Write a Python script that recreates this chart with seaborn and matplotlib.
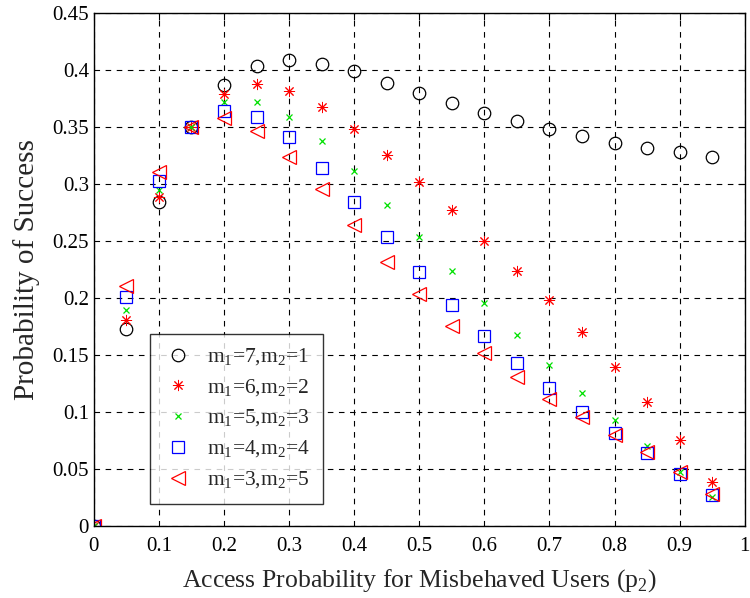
import numpy as np
import matplotlib
matplotlib.use('Agg')
import matplotlib.pyplot as plt
import seaborn as sns

# data
p2 = [0, 0.05, 0.1, 0.15, 0.2, 0.25, 0.3, 0.35, 0.4, 0.45,
      0.5, 0.55, 0.6, 0.65, 0.7, 0.75, 0.8, 0.85, 0.9, 0.95]
m71 = [0, 0.173, 0.284, 0.350, 0.387, 0.404, 0.409, 0.405, 0.399, 0.389,
       0.380, 0.371, 0.362, 0.355, 0.348, 0.342, 0.336, 0.332, 0.328, 0.324]
m62 = [0, 0.181, 0.289, 0.350, 0.379, 0.388, 0.382, 0.368, 0.348, 0.326,
       0.302, 0.277, 0.250, 0.224, 0.198, 0.170, 0.140, 0.109, 0.076, 0.039]
m53 = [0, 0.190, 0.295, 0.350, 0.372, 0.372, 0.359, 0.338, 0.312, 0.282,
       0.254, 0.224, 0.196, 0.168, 0.141, 0.117, 0.093, 0.070, 0.048, 0.026]
m44 = [0, 0.201, 0.303, 0.350, 0.364, 0.359, 0.341, 0.314, 0.284, 0.254,
       0.223, 0.194, 0.167, 0.143, 0.121, 0.100, 0.082, 0.064, 0.046, 0.027]
m35 = [0, 0.211, 0.311, 0.350, 0.358, 0.347, 0.324, 0.296, 0.264, 0.232,
       0.204, 0.176, 0.152, 0.131, 0.112, 0.096, 0.080, 0.065, 0.048, 0.028]

labels = [r'm$_\mathregular{1}$=7,m$_\mathregular{2}$=1',
          r'm$_\mathregular{1}$=6,m$_\mathregular{2}$=2',
          r'm$_\mathregular{1}$=5,m$_\mathregular{2}$=3',
          r'm$_\mathregular{1}$=4,m$_\mathregular{2}$=4',
          r'm$_\mathregular{1}$=3,m$_\mathregular{2}$=5']
xticks = [0, 0.1, 0.2, 0.3, 0.4, 0.5, 0.6, 0.7, 0.8, 0.9, 1]
xticklabels = ['0', '0.1', '0.2', '0.3', '0.4', '0.5', '0.6', '0.7', '0.8', '0.9', '1']
yticks = [0, 0.05, 0.1, 0.15, 0.2, 0.25, 0.3, 0.35, 0.4, 0.45]
yticklabels = ['0', '0.05', '0.1', '0.15', '0.2', '0.25', '0.3', '0.35', '0.4', '0.45']

sns.set_style('white')
plt.rcParams['font.family'] = ['Liberation Serif', 'DejaVu Serif']
plt.rcParams['mathtext.fontset'] = 'custom'
plt.rcParams['mathtext.rm'] = 'Liberation Serif'

fig = plt.figure(figsize=(7.5, 5.98), dpi=100)
ax = fig.add_axes([0.125, 0.12, 0.868, 0.858])

styles = [
    (m71, 'o', 'black', 9, 0.9),
    (m62, (8, 2, 0), 'red', 8, 0.7),
    (m53, 'x', '#00e000', 5, 0.9),
    (m44, 's', 'blue', 9, 0.9),
    (m35, '<', 'red', 10, 0.9),
]
for (vals, mk, col, ms, mew), lab in zip(styles, labels):
    sns.lineplot(x=p2, y=vals, ax=ax, linestyle='none', marker=mk,
                 markersize=ms, markerfacecolor='none', markeredgecolor=col,
                 markeredgewidth=mew, color=col, label=lab)

ax.set_xlim(0, 1)
ax.set_ylim(0, 0.45)
ax.set_xticks(xticks)
ax.set_xticklabels(xticklabels)
ax.set_yticks(yticks)
ax.set_yticklabels(yticklabels)
ax.tick_params(direction='in', length=5, width=0.8, labelsize=15,
               top=True, right=True, colors='black')
ax.tick_params(axis='x', pad=8)
ax.grid(True, color='black', linestyle=(0, (5, 5)), linewidth=0.8)
for s in ax.spines.values():
    s.set_color('black')
    s.set_linewidth(1)

ax.set_xlabel('Access Probability for Misbehaved Users (p$_\\mathregular{2}$)',
              fontsize=18.5, labelpad=8)
ax.set_ylabel('Probability of Success', fontsize=21, labelpad=9)

leg = ax.legend(loc='lower left', bbox_to_anchor=(0.086, 0.043),
                borderaxespad=0, fontsize=15.5,
                frameon=True, fancybox=False, edgecolor='black',
                borderpad=0.6, labelspacing=0.45, handlelength=1.4,
                handletextpad=0.65)
leg.get_frame().set_linewidth(1)

plt.savefig('out.png', dpi=100)
